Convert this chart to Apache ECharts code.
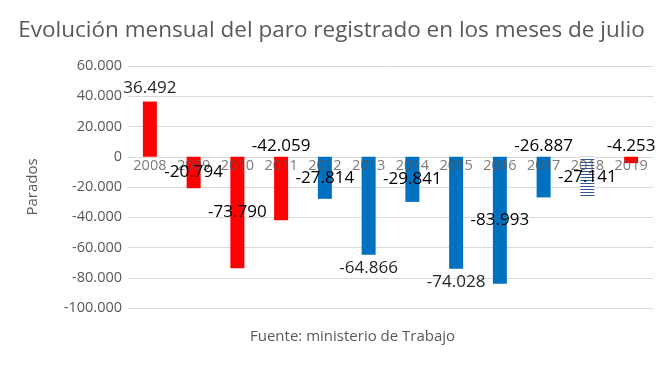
<!DOCTYPE html>
<html>
<head>
<meta charset="utf-8">
<script src="https://cdn.jsdelivr.net/npm/echarts@6/dist/echarts.min.js"></script>
<style>
html,body{margin:0;padding:0;background:#fff;}
#c{width:663px;height:373px;}
</style>
</head>
<body>
<div id="c"></div>
<script>
var categories = ['2008','2009','2010','2011','2012','2013','2014','2015','2016','2017','2018','2019'];
var values = [36492, -20794, -73790, -42059, -27814, -64866, -29841, -74028, -83993, -26887, -27141, -4253];
var barColors = ['red','red','red','red','blue','blue','blue','blue','blue','blue','striped','red'];
var labelPlaces = ['top','inside','inside','top','inside','bottom','inside','bottom','inside','top','inside','top'];
var yTicks = {min: -100000, max: 60000, step: 20000};
var titleText = 'Evolución mensual del paro registrado en los meses de julio';
var yName = 'Parados';
var sourceText = 'Fuente: ministerio de Trabajo';

function fmt(v){
  var s = Math.abs(v).toString();
  var out = '';
  while (s.length > 3){ out = '.' + s.slice(-3) + out; s = s.slice(0, -3); }
  out = s + out;
  return (v < 0 ? '-' : '') + out;
}

var pc = document.createElement('canvas');
pc.width = 4; pc.height = 3;
var ctx = pc.getContext('2d');
ctx.fillStyle = '#ffffff'; ctx.fillRect(0,0,4,3);
ctx.fillStyle = '#2F5597'; ctx.fillRect(0,0,4,1);

var colorMap = {red: '#FF0000', blue: '#0070C0', striped: {image: pc, repeat: 'repeat'}};

var barData = values.map(function(v, i){
  return {value: v, itemStyle: {color: colorMap[barColors[i]]}};
});

var labelData = values.map(function(v, i){
  var place = labelPlaces[i];
  var lbl = {
    position: place,
    distance: place === 'inside' ? 0 : 5,
    color: place === 'inside' ? '#000000' : '#262626'
  };
  if (place === 'top' && v < 0) { lbl.offset = [0, 3]; lbl.color = '#000000'; }
  return {value: v, label: lbl};
});

var catLabelData = categories.map(function(c){ return [c, 0]; });

var chart = echarts.init(document.getElementById('c'), null, {renderer: 'canvas'});
chart.setOption({
  animation: false,
  title: {
    text: titleText,
    left: 'center',
    top: 14,
    textStyle: {fontFamily: 'Open Sans', fontSize: 22.5, fontWeight: 'normal', color: '#595959'}
  },
  grid: {left: 128, right: 10, top: 66, bottom: 65, containLabel: false},
  xAxis: {
    type: 'category',
    data: categories,
    axisLine: {onZero: true, lineStyle: {color: '#D9D9D9', width: 1}},
    axisTick: {show: false},
    axisLabel: {show: false}
  },
  yAxis: {
    type: 'value',
    min: yTicks.min, max: yTicks.max, interval: yTicks.step,
    name: yName,
    nameLocation: 'middle',
    nameGap: 88,
    nameTextStyle: {fontFamily: 'Open Sans', fontSize: 15, color: '#595959'},
    axisLine: {show: false},
    axisTick: {show: false},
    splitLine: {lineStyle: {color: '#D9D9D9', width: 1}},
    axisLabel: {fontFamily: 'Open Sans', fontSize: 14.5, color: '#595959', margin: 6, formatter: function(v){ return fmt(v); }}
  },
  series: [{
    type: 'bar',
    data: barData,
    barWidth: '32%',
    label: {show: false}
  }, {
    type: 'scatter',
    data: catLabelData,
    symbolSize: 1,
    itemStyle: {color: 'rgba(0,0,0,0)'},
    zlevel: 1,
    silent: true,
    label: {
      show: true,
      position: 'bottom',
      distance: 1,
      fontFamily: 'Open Sans',
      fontSize: 14.5,
      color: '#595959',
      formatter: function(p){ return p.value[0]; }
    }
  }, {
    type: 'bar',
    data: labelData,
    barWidth: '32%',
    barGap: '-100%',
    zlevel: 2,
    itemStyle: {color: 'rgba(0,0,0,0)'},
    label: {
      show: true,
      fontFamily: 'Open Sans',
      fontSize: 17,
      formatter: function(p){ return fmt(p.value); }
    }
  }],
  graphic: [{
    type: 'text',
    left: 250,
    top: 329,
    style: {text: sourceText, font: '15px "Open Sans"', fill: '#595959'}
  }]
});
</script>
</body>
</html>
